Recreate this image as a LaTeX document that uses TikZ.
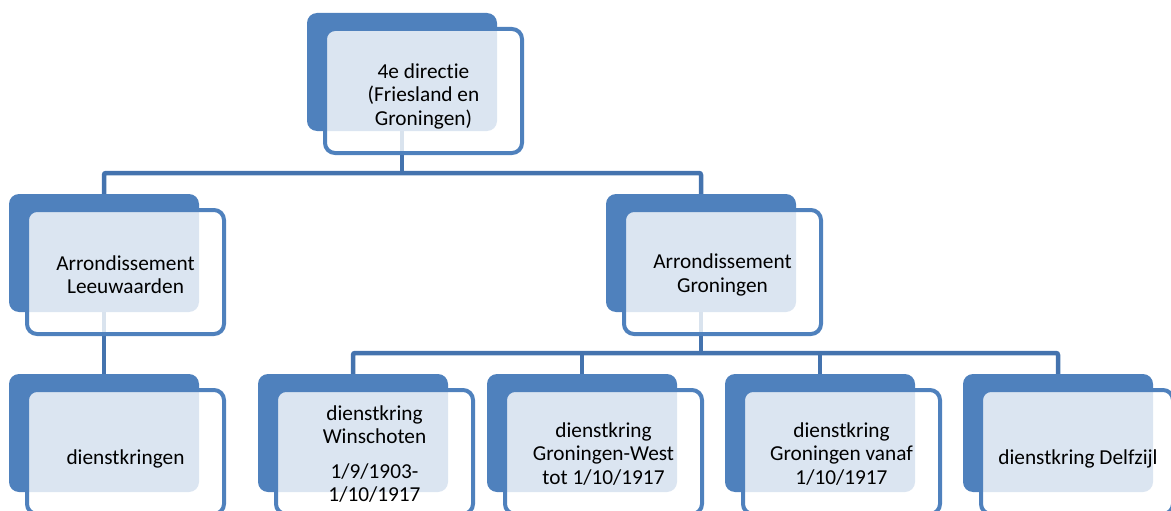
\documentclass[tikz,border=0pt]{standalone}
\usepackage{fontspec}
\setmainfont{Carlito}[Ligatures=NoCommon]
\begin{document}
\begin{tikzpicture}[x=1pt,y=-1pt,
  backbox/.style={fill=boxblue, draw=none, rounded corners=10pt, minimum width=190pt, minimum height=118pt, inner sep=0pt},
  frontbox/.style={fill=white, fill opacity=0.8, text opacity=1, draw=boxblue, line width=4pt, rounded corners=10pt, minimum width=197pt, minimum height=124pt, inner sep=0pt},
  lbl/.style={align=center, inner sep=0pt, font=\fontsize{21.3}{23.5}\selectfont, text=black},
  conn/.style={draw=connblue, line width=4.5pt, rounded corners=2pt}
]
\definecolor{boxblue}{HTML}{4F81BD}
\definecolor{connblue}{HTML}{4473AE}
\useasboundingbox (0,0) rectangle (1171,511);
\clip (0,0) rectangle (1171,511);

% back boxes
\node[backbox] (tb) at (402,72) {};
\node[backbox] (lb) at (104,253) {};
\node[backbox] (rb) at (701,253) {};
\node[backbox] (db) at (104,433) {};
\node[backbox] (wb) at (353,433) {};
\node[backbox] (gwb) at (582,433) {};
\node[backbox] (gvb) at (820,433) {};
\node[backbox] (fb) at (1058,433) {};

% connectors
\coordinate (bar1) at (402,173);
\coordinate (bar2) at (701,353);
\draw[conn] (tb.south) -- (bar1);
\draw[conn] (lb.north) |- (bar1) -| (rb.north);
\draw[conn] (lb.south) -- (db.north);
\draw[conn] (rb.south) -- (bar2);
\draw[conn] (wb.north) |- (bar2) -| (fb.north);
\draw[conn] (gwb.north) -- (gwb.north |- bar2);
\draw[conn] (gvb.north) -- (gvb.north |- bar2);

% front boxes
\node[frontbox] (t) at (423.5,91) {};
\node[frontbox] (l) at (125.5,272) {};
\node[frontbox] (r) at (722.5,272) {};
\node[frontbox] (d) at (125.5,452) {};
\node[frontbox] (w) at (374.5,452) {};
\node[frontbox] (gw) at (603.5,452) {};
\node[frontbox] (gv) at (841.5,452) {};
\node[frontbox, minimum width=192pt] (f) at (1077,452) {};

% labels
\node[lbl] (tt) at ([yshift=-5pt]t.center) {4e directie\\(Friesland en\\Groningen)};
\node[lbl] (lt) at ([yshift=-2.5pt]l.center) {Arrondissement\\Leeuwaarden};
\node[lbl] (rt) at ([yshift=-3pt]r.center) {Arrondissement\\Groningen};
\node[lbl] (dt) at ([yshift=-6.5pt]d.center) {dienstkringen};
\node[lbl] (wt) at ([yshift=-2pt]w.center) {dienstkring\\Winschoten\\[11pt]1/9/1903-\\1/10/1917};
\node[lbl] (gwt) at ([yshift=-2pt]gw.center) {dienstkring\\Groningen-West\\tot 1/10/1917};
\node[lbl] (gvt) at ([yshift=-2pt]gv.center) {dienstkring\\Groningen vanaf\\1/10/1917};
\node[lbl] (ft) at ([yshift=-6.5pt,xshift=1pt]f.center) {dienstkring Delfzijl};
\end{tikzpicture}
\end{document}
